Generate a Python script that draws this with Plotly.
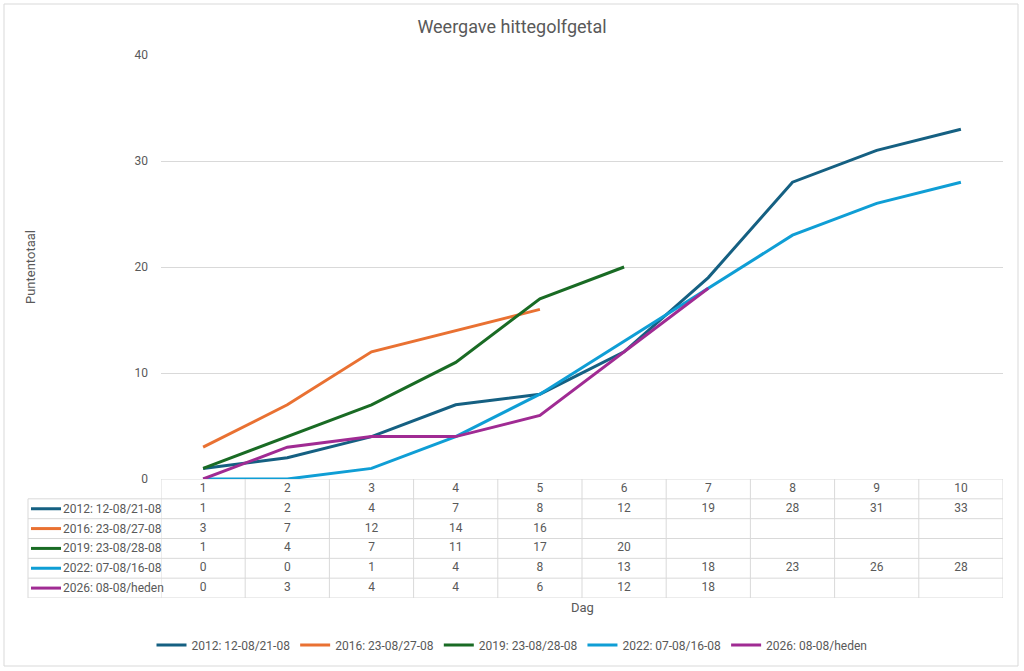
import plotly.graph_objects as go

days = [1, 2, 3, 4, 5, 6, 7, 8, 9, 10]
labels = ["2012: 12-08/21-08", "2016: 23-08/27-08", "2019: 23-08/28-08",
          "2022: 07-08/16-08", "2026: 08-08/heden"]
s2012 = [1, 2, 4, 7, 8, 12, 19, 28, 31, 33]
s2016 = [3, 7, 12, 14, 16]
s2019 = [1, 4, 7, 11, 17, 20]
s2022 = [0, 0, 1, 4, 8, 13, 18, 23, 26, 28]
s2026 = [0, 3, 4, 4, 6, 12, 18]
series = [s2012, s2016, s2019, s2022, s2026]
colors = ["#156082", "#E97132", "#196B24", "#0F9ED5", "#A02B93"]
y_ticks = [0, 10, 20, 30, 40]

txt = "#595959"
grid = "#d9d9d9"
font = "Roboto"

# layout in pixels
W, H = 1024, 671
L, R, T, B = 161, 21, 55, 73
plot_w = W - L - R
plot_h = H - T - B
table_h = 119
split = table_h / plot_h

fig = go.Figure()

for name, vals, col in zip(labels, series, colors):
    fig.add_trace(go.Scatter(
        x=days[:len(vals)], y=vals, mode="lines", name=name,
        line=dict(color=col, width=3), xaxis="x", yaxis="y"
    ))

# table text: header row (0) and series rows (1..5)
tx, ty, tt = [], [], []
for d in days:
    tx.append(d); ty.append(0); tt.append(str(d))
for r, vals in enumerate(series, start=1):
    for d, v in zip(days, vals):
        tx.append(d); ty.append(r); tt.append(str(v))
fig.add_trace(go.Scatter(
    x=tx, y=ty, text=tt, mode="text", showlegend=False, hoverinfo="skip",
    textfont=dict(family=font, size=12, color=txt), xaxis="x2", yaxis="y2"
))

shapes = []
left_px = 28
left_paper = (left_px - L) / plot_w
n_rows = len(series) + 1
# horizontal table lines
for k in range(n_rows + 1):
    yb = k - 0.5
    x0 = 0 if k == 0 else left_paper
    shapes.append(dict(type="line", xref="paper", yref="y2", x0=x0, x1=1,
                       y0=yb, y1=yb, line=dict(color=grid, width=1)))
# vertical table lines
for d in days + [days[-1] + 1]:
    shapes.append(dict(type="line", xref="x2", yref="y2", x0=d - 0.5, x1=d - 0.5,
                       y0=-0.5, y1=n_rows - 0.5, line=dict(color=grid, width=1)))
shapes.append(dict(type="line", xref="paper", yref="y2", x0=left_paper, x1=left_paper,
                   y0=0.5, y1=n_rows - 0.5, line=dict(color=grid, width=1)))
# legend keys in the table
key0 = (31 - L) / plot_w
key1 = (61 - L) / plot_w
annotations = []
for r, (name, col) in enumerate(zip(labels, colors), start=1):
    shapes.append(dict(type="line", xref="paper", yref="y2", x0=key0, x1=key1,
                       y0=r, y1=r, line=dict(color=col, width=3)))
    annotations.append(dict(xref="paper", yref="y2", x=key1, y=r, text=name,
                            showarrow=False, xanchor="left", yanchor="middle",
                            font=dict(family=font, size=12, color=txt)))
# outer chart border
shapes.append(dict(type="rect", xref="paper", yref="paper",
                   x0=(4 - L) / plot_w, x1=(1018 - L) / plot_w,
                   y0=-(666 - T - plot_h) / plot_h, y1=1 + (T - 4) / plot_h,
                   line=dict(color=grid, width=1)))

annotations.append(dict(xref="paper", yref="paper", x=0.5, y=-(607 - T - plot_h) / plot_h,
                        text="Dag", showarrow=False, yanchor="middle",
                        font=dict(family=font, size=13, color=txt)))
annotations.append(dict(xref="paper", yref="paper", x=(30 - L) / plot_w,
                        y=split + (1 - split) / 2, text="Puntentotaal", textangle=-90,
                        showarrow=False, xanchor="center", yanchor="middle",
                        font=dict(family=font, size=13, color=txt)))

fig.update_layout(
    width=W, height=H,
    margin=dict(l=L, r=R, t=T, b=B),
    paper_bgcolor="white", plot_bgcolor="white",
    title=dict(text="Weergave hittegolfgetal", x=0.5, xref="container", xanchor="center",
               y=1 - 27 / H, yanchor="middle", font=dict(family=font, size=18, color=txt)),
    xaxis=dict(range=[0.5, 10.5], domain=[0, 1], anchor="y", showticklabels=False,
               showgrid=False, zeroline=False, ticks=""),
    yaxis=dict(range=[0, 40], domain=[split, 1], tickvals=y_ticks, showgrid=True,
               gridcolor=grid, zeroline=False, ticks="", ticklabelstandoff=12,
               tickfont=dict(family=font, size=12, color=txt)),
    xaxis2=dict(range=[0.5, 10.5], domain=[0, 1], anchor="y2", visible=False),
    yaxis2=dict(range=[n_rows - 0.5, -0.5], domain=[0, split], anchor="x2", visible=False),
    showlegend=True,
    legend=dict(orientation="h", x=(512 - L) / plot_w, xanchor="center",
                y=-(645 - T - plot_h) / plot_h, yanchor="middle",
                font=dict(family=font, size=12, color=txt), itemwidth=30,
                tracegroupgap=0),
    shapes=shapes, annotations=annotations,
)

# page body has an 8px default margin; remove it so pixel positions line up
fig.write_html("out.html", config={"displayModeBar": False},
               post_script="document.body.style.margin='0';")
